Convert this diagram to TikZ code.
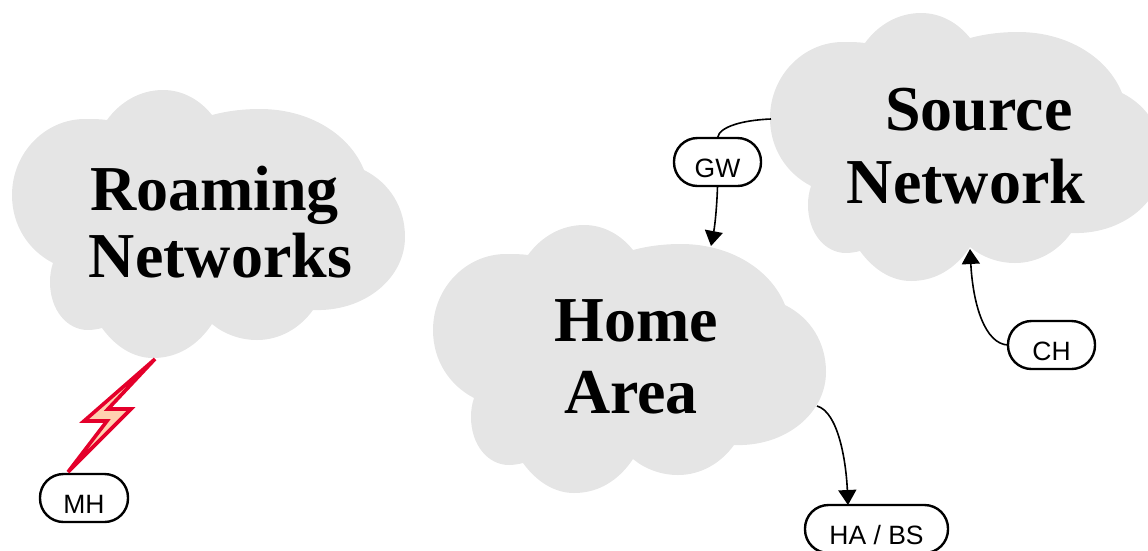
\documentclass[tikz,border=0pt]{standalone}
\usepackage{fontspec}
\setmainfont{Liberation Serif}
\newfontfamily\labelfont{Liberation Sans}
\usetikzlibrary{arrows.meta}
\definecolor{cloudgray}{RGB}{229,229,229}
\definecolor{boltred}{RGB}{228,0,43}
\definecolor{boltfill}{RGB}{255,208,176}
\tikzset{
  x=1pt,y=-1pt,
  cloudtext/.style={font=\fontsize{64}{67}\selectfont\bfseries,align=center,inner sep=0pt},
  pill/.style={draw=black,line width=2.4pt,rounded corners=23.5pt,fill=white,inner sep=0pt,outer sep=0pt,text height=39pt,text depth=9pt,font=\labelfont\fontsize{26.5}{28}\selectfont},
  link/.style={draw=black,line width=1.6pt},
  arrowlink/.style={link,-{Triangle[length=15pt,width=18pt]}},
  cloudshape/.pic={
    \fill[cloudgray] (107,120) .. controls (100,119) and (93,119) .. (85,119)
      .. controls (45,119) and (12,153) .. (12,195)
      .. controls (12,225) and (28,250) .. (53,263)
      .. controls (51,269) and (50,275) .. (50,282)
      .. controls (50,310) and (67,330) .. (88,330)
      .. controls (93,330) and (98,329) .. (102,328)
      .. controls (115,346) and (133,358) .. (153,358)
      .. controls (178,358) and (198,345) .. (212,324)
      .. controls (224,334) and (240,340) .. (257,340)
      .. controls (280,340) and (300,328) .. (313,310)
      .. controls (365,312) and (405,278) .. (405,237)
      .. controls (405,208) and (390,183) .. (364,170)
      .. controls (350,135) and (310,109) .. (260,109)
      .. controls (243,109) and (227,111) .. (212,115)
      .. controls (200,100) and (183,90) .. (163,90)
      .. controls (140,90) and (120,102) .. (107,120) -- cycle;
  }
}
\begin{document}
\begin{tikzpicture}
\useasboundingbox (0,0) rectangle (1148,550);
\pic at (0,0) {cloudshape};
\pic at (758,-77) {cloudshape};
\pic at (421,135) {cloudshape};
\node[cloudtext] (roam) at (220.5,222) {Roaming\hspace*{12pt}\\Networks};
\node[cloudtext] (source) at (966,146) {\hspace*{26pt}Source\\[6pt]Network};
\node[cloudtext] (home) at (636,356.5) {Home\\[5pt]Area\hspace*{10pt}};
\node[pill,minimum width=88pt] (mh) at (84,498) {MH};
\node[pill,minimum width=87pt] (gw) at (717.5,162) {GW};
\node[pill,minimum width=87pt] (ch) at (1051.5,345) {CH};
\node[pill,minimum width=143pt] (ha) at (876.5,529) {HA / BS};
\coordinate (srcleft) at (771,119);
\coordinate (srcbottom) at (970,249);
\coordinate (hometop) at (711,246);
\coordinate (homeright) at (817,406);
\coordinate (hatop) at (848,505);
\draw[link] (gw.north) .. controls (719,126) and (745,120) .. (srcleft);
\draw[arrowlink] (gw.south) .. controls (717,205) and (715,225) .. (hometop);
\draw[arrowlink] (homeright) .. controls (838,412) and (846,460) .. (hatop);
\draw[arrowlink] (ch.west) .. controls (985,344) and (973,305) .. (srcbottom);
\draw[draw=boltred,fill=boltfill,line width=3.6pt,miter limit=10]
  (155,359) -- (84,421) -- (107,421) -- (68,472) -- (131,409) -- (108,409) -- cycle;
\end{tikzpicture}
\end{document}
